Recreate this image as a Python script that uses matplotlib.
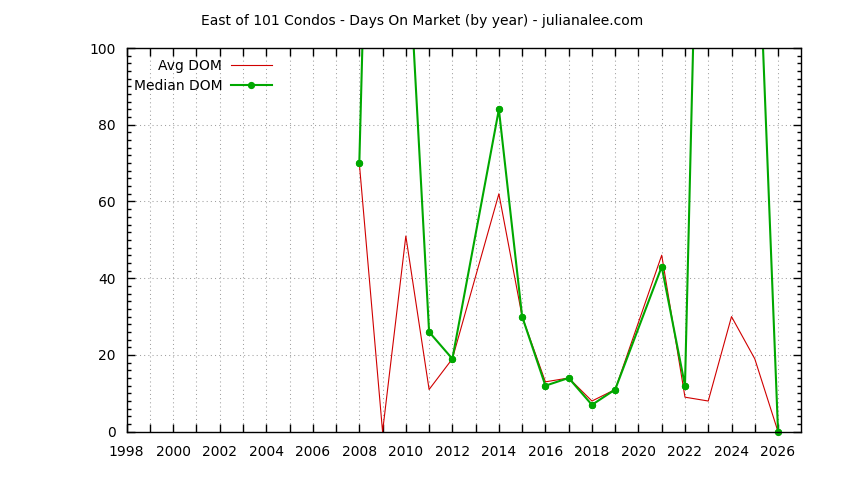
import numpy as np
import matplotlib
matplotlib.use("Agg")
import matplotlib.pyplot as plt
from matplotlib.ticker import MultipleLocator

# data (2013 and 2020 have no points)
years = [2008, 2009, 2010, 2011, 2012, 2014, 2015, 2016, 2017, 2018, 2019,
         2021, 2022, 2023, 2024, 2025, 2026]
avg_dom = [70, 0, 51, 11, 19, 62, 30, 13, 14, 8, 11, 46, 9, 8, 30, 19, 0]
median_dom = [70, 300, 138, 26, 19, 84, 30, 12, 14, 7, 11, 43, 12, 265, 200, 155, 0]

red = "#d00000"
green = "#00a800"

plt.rcParams["font.family"] = "DejaVu Sans"
plt.rcParams["font.size"] = 9

fig = plt.figure(figsize=(8.44, 4.80), dpi=100)
ax = fig.add_axes([0.1501, 0.1006, 0.7993, 0.7994])

ax.plot(years, avg_dom, color=red, lw=0.8, label="Avg DOM")
ax.plot(years, median_dom, color=green, lw=1.5, marker="o", markersize=4.2,
        label="Median DOM")

# points sitting on the frame are drawn whole, like gnuplot does
yrs = np.array(years)
med = np.array(median_dom)
inside = med <= 100
ax.plot(yrs[inside], med[inside], ls="none", marker="o", markersize=4.2,
        color=green, clip_on=False)

ax.set_xlim(1998, 2027)
ax.set_ylim(0, 100)
ax.set_xticks(range(1998, 2027))
ax.set_xticklabels([str(y) if y % 2 == 0 else "" for y in range(1998, 2027)])
ax.yaxis.set_major_locator(MultipleLocator(20))
ax.yaxis.set_minor_locator(MultipleLocator(2))

ax.tick_params(axis="both", which="major", direction="in", length=6, width=1,
               top=True, right=True, labelsize=10, colors="black")
ax.tick_params(axis="both", which="minor", direction="in", length=3, width=1,
               top=False, right=True)
ax.tick_params(axis="x", pad=9.5)
ax.tick_params(axis="y", pad=8)

ax.grid(True, which="major", color="#a0a0a0", lw=0.75, ls=(0, (1, 3)))
for s in ax.spines.values():
    s.set_linewidth(1)

ax.legend(loc="upper left", bbox_to_anchor=(0.0, 0.99), markerfirst=False,
          frameon=False, fontsize=10, handlelength=3.0, handletextpad=0.6,
          borderaxespad=0.2, borderpad=0.3, labelspacing=0.45)

fig.suptitle("East of 101 Condos - Days On Market (by year) - julianalee.com",
             x=0.5, y=0.970, fontsize=10)

fig.savefig("out.png", dpi=100)
